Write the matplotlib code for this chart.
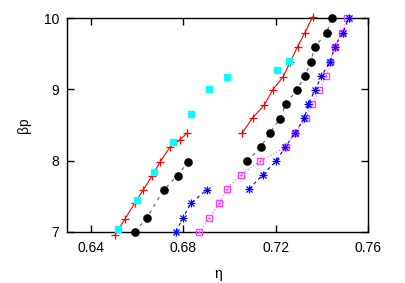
import matplotlib
matplotlib.use("Agg")
import matplotlib.pyplot as plt

plt.rcParams['font.family'] = ['Liberation Sans', 'DejaVu Sans']

# Red (+), two branches
red_l_eta = [0.6506, 0.6549, 0.6590, 0.6628, 0.6665, 0.6700, 0.6743, 0.6786, 0.6818]
red_l_bp = [6.96, 7.18, 7.40, 7.59, 7.78, 7.98, 8.19, 8.29, 8.39]
red_r_eta = [0.7055, 0.7100, 0.7150, 0.7186, 0.7232, 0.7263, 0.7294, 0.7326, 0.7359]
red_r_bp = [8.39, 8.60, 8.78, 8.99, 9.18, 9.39, 9.60, 9.80, 10.02]

# Black (filled circles), two branches
blk_l_eta = [0.6592, 0.6642, 0.6717, 0.6776, 0.6822]
blk_l_bp = [7.00, 7.19, 7.59, 7.79, 7.98]
blk_r_eta = [0.7077, 0.7135, 0.7175, 0.7218, 0.7244, 0.7290, 0.7326, 0.7351, 0.7369, 0.7420, 0.7441]
blk_r_bp = [7.99, 8.19, 8.39, 8.59, 8.80, 8.99, 9.19, 9.39, 9.60, 9.80, 10.00]

# Blue (asterisks), two branches
blu_l_eta = [0.6769, 0.6798, 0.6834, 0.6901]
blu_l_bp = [7.00, 7.19, 7.40, 7.59]
blu_r_eta = [0.7085, 0.7143, 0.7201, 0.7240, 0.7283, 0.7324, 0.7341, 0.7370, 0.7397, 0.7436, 0.7454, 0.7490, 0.7515]
blu_r_bp = [7.60, 7.80, 7.99, 8.19, 8.39, 8.60, 8.80, 8.99, 9.19, 9.39, 9.60, 9.80, 10.00]

# Magenta (open squares)
mag_eta = [0.6870, 0.6913, 0.6956, 0.6988, 0.7048, 0.7132, 0.7244, 0.7283, 0.7330, 0.7355,
           0.7388, 0.7417, 0.7434, 0.7456, 0.7484, 0.7506]
mag_bp = [6.99, 7.19, 7.40, 7.60, 7.80, 7.99, 8.19, 8.39, 8.60, 8.79,
          8.99, 9.19, 9.39, 9.60, 9.80, 10.00]

# Cyan (filled squares, no line)
cyn_eta = [0.6520, 0.6599, 0.6675, 0.6755, 0.6832, 0.6911, 0.6990, 0.7204, 0.7255]
cyn_bp = [7.04, 7.44, 7.84, 8.26, 8.66, 9.00, 9.17, 9.27, 9.40]

xticks = [0.64, 0.68, 0.72, 0.76]
yticks = [7, 8, 9, 10]

fig = plt.figure(figsize=(4.05, 2.83), dpi=100)
ax = fig.add_axes([0.1664, 0.1813, 0.7432, 0.7540])

# magenta
ax.plot(mag_eta, mag_bp, color='#ff40ff', lw=0.8, ls=(0, (1, 2)), marker='s', ms=5,
        mfc='none', mec='#ff40ff', mew=1.0, clip_on=False, zorder=3)
ax.plot(mag_eta, mag_bp, ls='none', marker='.', ms=1.5, color='#ff40ff', clip_on=False, zorder=3)
# blue
for xe, yb in [(blu_l_eta, blu_l_bp), (blu_r_eta, blu_r_bp)]:
    ax.plot(xe, yb, color='#0000ff', lw=0.8, ls=(0, (3, 3)), clip_on=False, zorder=4)
    ax.plot(xe, yb, ls='none', marker='+', ms=6, mew=0.9, color='#0000ff', clip_on=False, zorder=4)
    ax.plot(xe, yb, ls='none', marker='x', ms=4.2, mew=0.9, color='#0000ff', clip_on=False, zorder=4)
# black
for xe, yb in [(blk_l_eta, blk_l_bp), (blk_r_eta, blk_r_bp)]:
    ax.plot(xe, yb, color='#606060', lw=0.8, ls=(0, (3, 4)), marker='o', ms=5.2,
            mfc='black', mec='black', clip_on=False, zorder=5)
# red
for xe, yb in [(red_l_eta, red_l_bp), (red_r_eta, red_r_bp)]:
    ax.plot(xe, yb, color='#ff0000', lw=0.8, ls='-', marker='+', ms=6, mew=0.9,
            clip_on=False, zorder=6)
# cyan
ax.plot(cyn_eta, cyn_bp, ls='none', marker='s', ms=5, color='#00ffff', mec='#00ffff',
        clip_on=False, zorder=7)

ax.set_xlim(0.63, 0.76)
ax.set_ylim(7, 10)
ax.set_xticks(xticks)
ax.set_xticklabels([f"{v:.2f}" for v in xticks])
ax.set_yticks(yticks)
ax.set_yticklabels([str(v) for v in yticks])
ax.tick_params(direction='in', length=4.8, width=1.0, top=True, right=True, labelsize=10)
ax.tick_params(axis='x', pad=7)
ax.tick_params(axis='y', pad=6)
for s in ax.spines.values():
    s.set_linewidth(1.0)
ax.set_xlabel('η', fontsize=10, labelpad=8)
ax.set_ylabel('βp', fontsize=10, labelpad=9)

fig.savefig('out.png', dpi=100)
